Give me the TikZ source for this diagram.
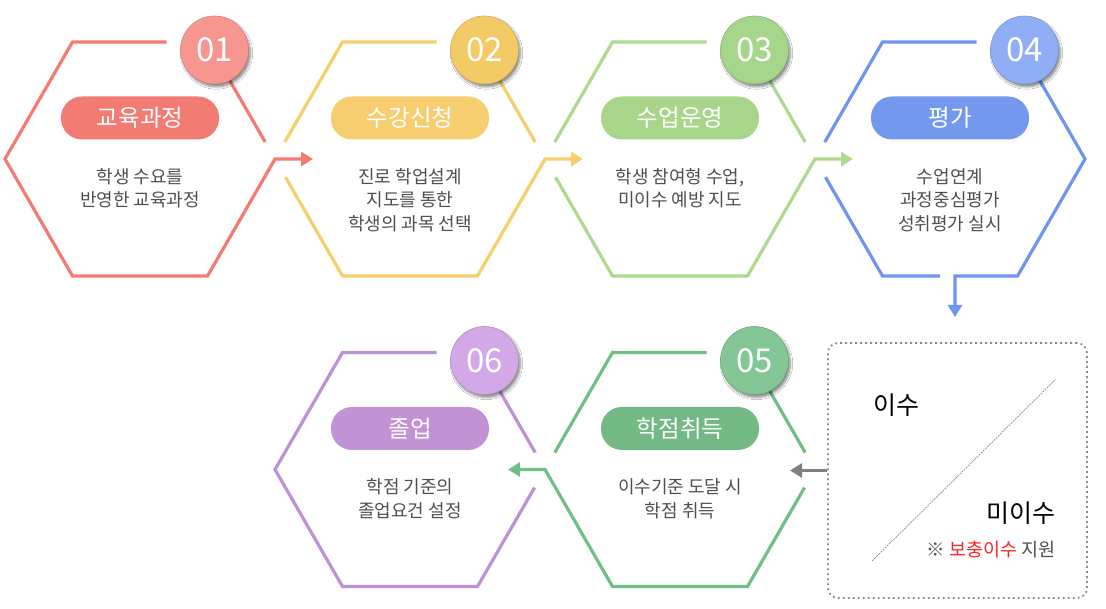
\documentclass[tikz,border=0pt]{standalone}
\usepackage{fontspec}
\setmainfont{Noto Sans CJK KR}
\usetikzlibrary{arrows.meta,calc,shadows.blur}
\definecolor{hexc1}{HTML}{F47A72}
\definecolor{hexc2}{HTML}{F6CE6C}
\definecolor{hexc3}{HTML}{ADDA8E}
\definecolor{hexc4}{HTML}{6E95F1}
\definecolor{hexc5}{HTML}{6FBF86}
\definecolor{hexc6}{HTML}{BE90D6}
\definecolor{pillc1}{HTML}{F27B74}
\definecolor{pillc2}{HTML}{F6CD6F}
\definecolor{pillc3}{HTML}{A9D58B}
\definecolor{pillc4}{HTML}{7398EE}
\definecolor{pillc5}{HTML}{73B985}
\definecolor{pillc6}{HTML}{C193D4}
\definecolor{circc1}{HTML}{F6968F}
\definecolor{circc2}{HTML}{F2CB66}
\definecolor{circc3}{HTML}{A6D68A}
\definecolor{circc4}{HTML}{90AEF5}
\definecolor{circc5}{HTML}{83C796}
\definecolor{circc6}{HTML}{D3A8E6}
\definecolor{desctext}{HTML}{4F4F4F}
\definecolor{boxgray}{HTML}{8A8A8A}
\definecolor{arrowgray}{HTML}{808080}
\definecolor{notered}{HTML}{FF2020}
\tikzset{
  >={Triangle[length=12pt,width=14pt]},
  hexline/.style={line width=3.2pt,draw=#1},
  flowarrow/.style={hexline=#1,->},
  pillnode/.style={rounded corners=21pt,fill=#1,text=white,
                   minimum width=158pt,minimum height=43pt,inner sep=0pt,
                   font=\fontsize{23.5}{23.5}\selectfont},
  numnode/.style={circle,fill=#1,draw=#1!85!black,line width=0.6pt,
                  minimum size=68pt,inner sep=0pt,text=white,
                  font=\fontsize{33}{33}\selectfont,
                  blur shadow={shadow xshift=2pt,shadow yshift=-3pt,
                               shadow opacity=45,shadow blur steps=6}},
  descnode/.style={align=center,anchor=north,text=desctext,inner sep=0pt,
                   font=\fontsize{18}{23.5}\selectfont},
  boxnode/.style={draw=boxgray,line width=1.8pt,dash pattern=on 1.8pt off 3.2pt,
                  rounded corners=10pt,minimum width=259pt,minimum height=255pt},
  grayarrow/.style={line width=3.2pt,draw=arrowgray,->},
  slashline/.style={draw=boxgray,line width=0.7pt,dash pattern=on 2pt off 1pt},
  boxtext/.style={font=\fontsize{25}{25}\selectfont,text=black,inner sep=0pt},
  notetext/.style={font=\fontsize{18.5}{18.5}\selectfont,text=desctext,inner sep=0pt},
}

\begin{document}
\begin{tikzpicture}[x=1pt,y=-1pt]
  \fill[white] (0,0) rectangle (1106,609);
  \useasboundingbox (0,0) rectangle (1106,609);

  % hexagon corners
  \foreach \n/\cx/\cy in {1/140/159,2/410/159,3/680/159,4/950/159,5/680/469.5,6/410/469.5}{
    \coordinate (h\n) at (\cx,\cy);
    \coordinate (h\n-L) at (\cx-135,\cy);
    \coordinate (h\n-R) at (\cx+135,\cy);
    \coordinate (h\n-TL) at (\cx-67.5,\cy-117);
    \coordinate (h\n-TR) at (\cx+67.5,\cy-117);
    \coordinate (h\n-BL) at (\cx-67.5,\cy+117);
    \coordinate (h\n-BR) at (\cx+67.5,\cy+117);
    \coordinate (h\n-top) at (\cx+26.5,\cy-117);
  }
  \coordinate (in2) at ($(h2-L)+(38,0)$);
  \coordinate (in3) at ($(h3-L)+(38,0)$);
  \coordinate (in4) at ($(h4-L)+(38,0)$);
  \coordinate (in5) at ($(h5-R)+(-25,0)$);
  \coordinate (in6) at ($(h6-R)+(-37,0)$);
  \coordinate (h4-cut) at ($(h4)+(-10,117)$);
  \coordinate (h4-down) at ($(h4)+(5,117)$);
  \coordinate (d4) at ($(h4)+(5,158)$);

  % 01
  \draw[hexline=hexc1] ($(h1-R)!0.145!(h1-TR)$) -- (h1-TR);
  \draw[flowarrow=hexc1] (h1-top) -- (h1-TL) -- (h1-L) -- (h1-BL) -- (h1-BR) -- (h1-R) -- (in2);
  % 02, 03
  \foreach \n/\m in {2/3,3/4}{
    \draw[hexline=hexc\n] ($(h\n-L)!0.145!(h\n-TL)$) -- (h\n-TL) -- (h\n-top);
    \draw[hexline=hexc\n] ($(h\n-R)!0.145!(h\n-TR)$) -- (h\n-TR);
    \draw[flowarrow=hexc\n] ($(h\n-L)!0.155!(h\n-BL)$) -- (h\n-BL) -- (h\n-BR) -- (h\n-R) -- (in\m);
  }
  % 04
  \draw[hexline=hexc4] ($(h4-L)!0.145!(h4-TL)$) -- (h4-TL) -- (h4-top);
  \draw[hexline=hexc4] ($(h4-L)!0.155!(h4-BL)$) -- (h4-BL) -- (h4-cut);
  \draw[flowarrow=hexc4] (h4-TR) -- (h4-R) -- (h4-BR) -- (h4-down) -- (d4);
  % 05
  \draw[hexline=hexc5] ($(h5-L)!0.145!(h5-TL)$) -- (h5-TL) -- (h5-top);
  \draw[hexline=hexc5] ($(h5-R)!0.145!(h5-TR)$) -- (h5-TR);
  \draw[flowarrow=hexc5] ($(h5-R)!0.155!(h5-BR)$) -- (h5-BR) -- (h5-BL) -- (h5-L) -- (in6);
  % 06
  \draw[hexline=hexc6] ($(h6-R)!0.145!(h6-TR)$) -- (h6-TR);
  \draw[hexline=hexc6] (h6-top) -- (h6-TL) -- (h6-L) -- (h6-BL) -- (h6-BR) -- ($(h6-R)!0.155!(h6-BR)$);

  % numbers, titles, texts
  \foreach \n/\title/\desc in {
      1/교육과정/{학생 수요를\\반영한 교육과정},
      2/수강신청/{진로 학업설계\\지도를 통한\\학생의 과목 선택},
      3/수업운영/{학생 참여형 수업,\\미이수 예방 지도},
      4/평가/{수업연계\\과정중심평가\\성취평가 실시},
      5/학점취득/{이수기준 도달 시\\학점 취득},
      6/졸업/{학점 기준의\\졸업요건 설정}}{
    \node[numnode=circc\n] (num\n) at ($(h\n-TR)+(7,8)$) {0\n};
    \node[pillnode=pillc\n] (title\n) at ($(h\n)+(0,-41)$) {\title};
    \node[descnode] (desc\n) at ($(h\n)+(0,9)$) {\desc};
  }

  % completion box
  \node[boxnode] (box) at (957.5,470.5) {};
  \draw[slashline] ($(box.south west)+(45,-38)$) -- ($(box.north east)+(-32,37)$);
  \node[boxtext] (pass) at (896,405) {이수};
  \node[boxtext] (fail) at (1021,513) {미이수};
  \node[notetext] (note) at (991,550) {※ \textcolor{notered}{보충이수} 지원};
  \draw[grayarrow] (box.west) -- (box.west -| in5);
\end{tikzpicture}
\end{document}
